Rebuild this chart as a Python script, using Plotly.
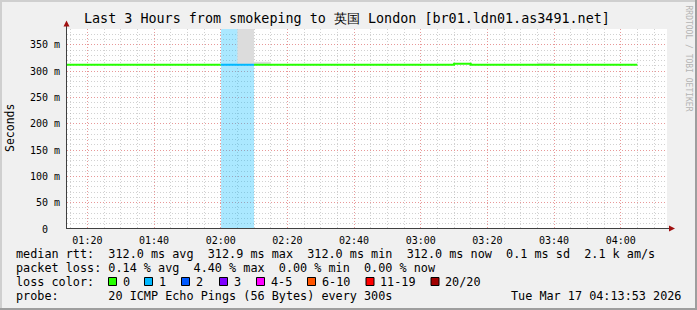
import plotly.graph_objects as go
from datetime import datetime, timedelta

# ---------------- data ----------------
STEP_START = [
    "01:10", "01:15", "01:20", "01:25", "01:30", "01:35", "01:40", "01:45",
    "01:50", "01:55", "02:00", "02:05", "02:10", "02:15", "02:20", "02:25",
    "02:30", "02:35", "02:40", "02:45", "02:50", "02:55", "03:00", "03:05",
    "03:10", "03:15", "03:20", "03:25", "03:30", "03:35", "03:40", "03:45",
    "03:50", "03:55", "04:00",
]
MEDIAN_MS = [
    312.0, 312.0, 312.0, 312.0, 312.0, 312.0, 312.0, 312.0,
    312.0, 312.0, 312.0, 312.0, 312.0, 312.0, 312.0, 312.0,
    312.0, 312.0, 312.0, 312.0, 312.0, 312.0, 312.0, 312.0,
    314.0, 312.0, 312.0, 312.0, 312.0, 312.0, 312.0, 312.0,
    312.0, 312.0, 312.0,
]
SMOKE_MIN_MS = [
    312.0, 312.0, 312.0, 312.0, 312.0, 312.0, 312.0, 312.0,
    312.0, 312.0, 312.0, 312.0, 312.0, 312.0, 312.0, 312.0,
    312.0, 312.0, 312.0, 312.0, 312.0, 312.0, 312.0, 312.0,
    314.0, 312.0, 312.0, 312.0, 312.0, 312.0, 312.0, 312.0,
    312.0, 312.0, 312.0,
]
SMOKE_MAX_MS = [
    312.0, 312.0, 312.0, 312.0, 312.0, 312.0, 312.0, 312.0,
    312.0, 312.0, 312.0, 420.0, 318.0, 312.0, 312.0, 312.0,
    312.0, 312.0, 312.0, 312.0, 312.0, 312.0, 312.0, 312.0,
    314.0, 312.0, 312.0, 312.0, 312.0, 316.0, 312.0, 312.0,
    312.0, 312.0, 312.0,
]
LOSS_PINGS = [
    0, 0, 0, 0, 0, 0, 0, 0,
    0, 0, 1, 1, 0, 0, 0, 0,
    0, 0, 0, 0, 0, 0, 0, 0,
    0, 0, 0, 0, 0, 0, 0, 0,
    0, 0, 0,
]

LOSS_LABELS = ["0", "1", "2", "3", "4-5", "6-10", "11-19", "20/20"]
LOSS_COLORS = ["#26ff00", "#00b8ff", "#0059ff", "#7e00ff", "#ff00ff",
               "#ff5500", "#ff0000", "#a10000"]
LOSS_BG = {1: "rgba(0,184,255,0.33)"}

Y_TICKS = [0, 50, 100, 150, 200, 250, 300, 350]
Y_TICK_TEXT = ["0\u00a0\u00a0", "50 m", "100 m", "150 m", "200 m", "250 m", "300 m", "350 m"]
X_TICK_TEXT = ["01:20", "01:40", "02:00", "02:20", "02:40", "03:00", "03:20", "03:40", "04:00"]

RTT_STATS = {"avg": "312.0", "max": "312.9", "min": "312.0", "now": "312.0",
             "sd": "0.1", "ams": "2.1 k"}
LOSS_STATS = {"avg": "0.14", "max": "4.40", "min": "0.00", "now": "0.00"}

DAY = "2026-03-17"
STEP_MIN = 5
GRAPH_END = "2026-03-17 04:13:53"
Y_MAX = 380

# ---------------- helpers ----------------
def ts(hm):
    return datetime.strptime(f"{DAY} {hm}", "%Y-%m-%d %H:%M")

starts = [ts(s) for s in STEP_START]
ends = [s + timedelta(minutes=STEP_MIN) for s in starts]
end_dt = datetime.strptime(GRAPH_END, "%Y-%m-%d %H:%M:%S")
start_dt = end_dt - timedelta(hours=3)

def loss_color_index(n):
    if n <= 3:
        return n
    if n <= 5:
        return 4
    if n <= 10:
        return 5
    if n <= 19:
        return 6
    return 7

L, T, W, H = 67, 29, 600, 200
def px(x):
    return (x - L) / W
def py(y):
    return (T + H - y) / H

MONO = "DejaVu Sans Mono"
fig = go.Figure()

# loss background
for lvl, col in LOSS_BG.items():
    xs = [s for s, l in zip(starts, LOSS_PINGS) if l == lvl]
    fig.add_trace(go.Bar(x=xs, y=[Y_MAX] * len(xs), width=STEP_MIN * 60000, offset=0,
                         marker=dict(color=col, line=dict(width=0)),
                         hoverinfo="skip", showlegend=False))

# smoke
sx = starts + [ends[-1]]
fig.add_trace(go.Scatter(x=sx, y=SMOKE_MIN_MS + [SMOKE_MIN_MS[-1]], mode="lines",
                         line=dict(width=0, shape="hv"), hoverinfo="skip", showlegend=False))
fig.add_trace(go.Scatter(x=sx, y=SMOKE_MAX_MS + [SMOKE_MAX_MS[-1]], mode="lines",
                         line=dict(width=0, shape="hv"), fill="tonexty",
                         fillcolor="#dcdcdc", hoverinfo="skip", showlegend=False))

# median line coloured by loss
for ci, col in enumerate(LOSS_COLORS):
    xs, ys = [], []
    prev = False
    for s, e, m, l in zip(starts, ends, MEDIAN_MS, LOSS_PINGS):
        if loss_color_index(l) == ci:
            xs += [s, e]
            ys += [m, m]
            prev = True
        elif prev:
            xs.append(None)
            ys.append(None)
            prev = False
    if xs:
        fig.add_trace(go.Scatter(x=xs, y=ys, mode="lines",
                                 line=dict(color=col, width=2),
                                 hoverinfo="skip", showlegend=False, connectgaps=False))

# ---------------- layout ----------------
GRID_MAJOR = "rgba(255,95,95,0.5)"
GRID_MINOR = "rgba(140,140,140,0.4)"
fig.update_layout(
    width=697, height=310,
    margin=dict(l=L, r=697 - L - W, t=T, b=310 - T - H, autoexpand=False),
    paper_bgcolor="#f0f0f0", plot_bgcolor="#ffffff",
    bargap=0, barmode="overlay", showlegend=False,
    font=dict(family=MONO, size=10, color="#000000"),
    xaxis=dict(
        type="date", range=[start_dt, end_dt],
        tickmode="array",
        tickvals=[ts(t) for t in X_TICK_TEXT], ticktext=X_TICK_TEXT,
        showgrid=True, gridcolor=GRID_MAJOR, griddash="1px,2px", gridwidth=1,
        minor=dict(dtick=STEP_MIN * 60000, showgrid=True, gridcolor=GRID_MINOR,
                   griddash="1px,2px", gridwidth=1),
        showline=False, zeroline=False, ticks="", ticklabelstandoff=4,
        tickfont=dict(family=MONO, size=10, color="#000000"),
        fixedrange=True,
    ),
    yaxis=dict(
        range=[0, Y_MAX], tickmode="array", tickvals=Y_TICKS, ticktext=Y_TICK_TEXT,
        showgrid=True, gridcolor=GRID_MAJOR, griddash="1px,2px", gridwidth=1,
        minor=dict(dtick=10, showgrid=True, gridcolor=GRID_MINOR,
                   griddash="1px,2px", gridwidth=1),
        showline=False, zeroline=False, ticks="", ticklabelstandoff=6,
        tickfont=dict(family=MONO, size=10, color="#000000"),
        fixedrange=True,
    ),
)

shapes = []
# frame
shapes.append(dict(type="rect", xref="paper", yref="paper", x0=px(0), x1=px(697), y0=py(0), y1=py(2),
                   fillcolor="#cfcfcf", line=dict(width=0), layer="above"))
shapes.append(dict(type="rect", xref="paper", yref="paper", x0=px(0), x1=px(2), y0=py(0), y1=py(310),
                   fillcolor="#cfcfcf", line=dict(width=0), layer="above"))
shapes.append(dict(type="rect", xref="paper", yref="paper", x0=px(0), x1=px(697), y0=py(308), y1=py(310),
                   fillcolor="#9e9e9e", line=dict(width=0), layer="above"))
shapes.append(dict(type="rect", xref="paper", yref="paper", x0=px(695), x1=px(697), y0=py(0), y1=py(310),
                   fillcolor="#9e9e9e", line=dict(width=0), layer="above"))
# axes
shapes.append(dict(type="line", xref="paper", yref="paper", x0=px(67), x1=px(670), y0=py(228.5), y1=py(228.5),
                   line=dict(color="#404040", width=1), layer="above"))
shapes.append(dict(type="line", xref="paper", yref="paper", x0=px(66.5), x1=px(66.5), y0=py(229), y1=py(24),
                   line=dict(color="#404040", width=1), layer="above"))
shapes.append(dict(type="path", xref="paper", yref="paper",
                   path=f"M {px(669)},{py(225.5)} L {px(675)},{py(228.5)} L {px(669)},{py(231.5)} Z",
                   fillcolor="#a01010", line=dict(width=0), layer="above"))
shapes.append(dict(type="path", xref="paper", yref="paper",
                   path=f"M {px(63.5)},{py(26.5)} L {px(66.5)},{py(20.5)} L {px(69.5)},{py(26.5)} Z",
                   fillcolor="#a01010", line=dict(width=0), layer="above"))
# legend colour boxes
BOX_X = [108.5, 144.5, 181.5, 219.5, 256.5, 307.5, 366, 431]
TEXT_X = [122.5, 158.5, 195.5, 233.5, 270.5, 321.5, 380, 445]
for bx, col in zip(BOX_X, LOSS_COLORS):
    shapes.append(dict(type="rect", xref="paper", yref="paper",
                       x0=px(bx), x1=px(bx + 8), y0=py(277.5), y1=py(285.5),
                       fillcolor=col, line=dict(color="#000000", width=1), layer="above"))
fig.update_layout(shapes=shapes)

NB = "\u00a0"
def nb(s):
    return s.replace(" ", NB)

LEG_SIZE = 11.8
def ann(text, x, y, size=LEG_SIZE, xanchor="left", **kw):
    fig.add_annotation(text=nb(text), xref="paper", yref="paper", x=px(x), y=py(y),
                       xanchor=xanchor, yanchor="middle", showarrow=False,
                       borderpad=0, borderwidth=0,
                       font=dict(family=MONO, size=size, color=kw.pop("color", "#000000")), **kw)

title = "Last 3 Hours from smokeping to 英国 London [br01.ldn01.as3491.net]"
ann(title, 347, 18.5, size=13.4, xanchor="center")

line1 = (f"median rtt:  {RTT_STATS['avg']} ms avg  {RTT_STATS['max']} ms max  "
         f"{RTT_STATS['min']} ms min  {RTT_STATS['now']} ms now  {RTT_STATS['sd']} ms sd  "
         f"{RTT_STATS['ams']} am/s")
line2 = (f"packet loss: {LOSS_STATS['avg']} % avg  {LOSS_STATS['max']} % max  "
         f"{LOSS_STATS['min']} % min  {LOSS_STATS['now']} % now")
ann(line1, 16, 254)
ann(line2, 16, 268)
ann("loss color:", 16, 282)
for tx, lab in zip(TEXT_X, LOSS_LABELS):
    ann(lab, tx, 282)
ann("probe:       20 ICMP Echo Pings (56 Bytes) every 300s", 16, 296)
ann("Tue Mar 17 04:13:53 2026", 681, 296, xanchor="right")

# y title
fig.add_annotation(text="Seconds", xref="paper", yref="paper", x=px(10), y=py(128),
                   xanchor="center", yanchor="middle", textangle=-90, showarrow=False,
                   borderpad=0, borderwidth=0,
                   font=dict(family=MONO, size=11.5, color="#000000"))
# watermark
fig.add_annotation(text=nb("RRDTOOL / TOBI OETIKER"), xref="paper", yref="paper", x=px(688.5), y=py(58),
                   xanchor="center", yanchor="middle", textangle=90, showarrow=False,
                   borderpad=0, borderwidth=0,
                   font=dict(family=MONO, size=8, color="#b4b4b4"))

fig.write_html("out.html", config={"displayModeBar": False})
